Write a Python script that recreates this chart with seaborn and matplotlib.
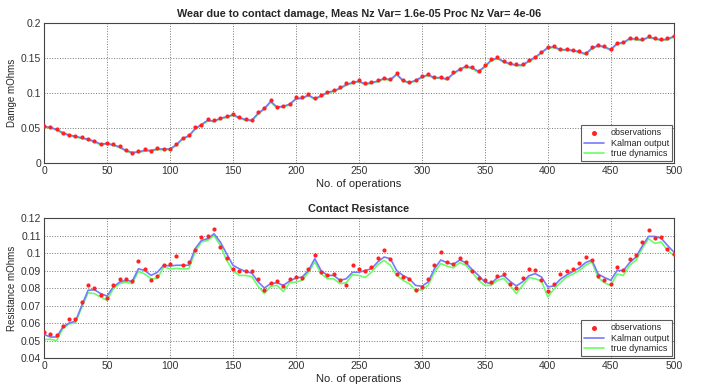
import matplotlib
matplotlib.use('Agg')
from matplotlib import pyplot as plt
from matplotlib.ticker import FuncFormatter
import seaborn as sns
import pandas as pd
import numpy as np

# number of operations, sampled every 5
ops = list(range(0, 501, 5))

# wear due to contact damage (mOhms)
damage_obs = [0.053, 0.052, 0.049, 0.043, 0.040, 0.039, 0.037, 0.035, 0.032, 0.027,
              0.029, 0.027, 0.024, 0.018, 0.015, 0.017, 0.020, 0.017, 0.021, 0.020,
              0.020, 0.027, 0.036, 0.040, 0.051, 0.055, 0.063, 0.061, 0.065, 0.067,
              0.070, 0.066, 0.063, 0.062, 0.073, 0.079, 0.090, 0.080, 0.082, 0.085,
              0.094, 0.094, 0.098, 0.093, 0.097, 0.102, 0.104, 0.108, 0.114, 0.116,
              0.118, 0.114, 0.116, 0.118, 0.122, 0.120, 0.129, 0.119, 0.116, 0.119,
              0.125, 0.127, 0.123, 0.123, 0.121, 0.130, 0.135, 0.139, 0.137, 0.131,
              0.140, 0.149, 0.151, 0.146, 0.143, 0.141, 0.141, 0.147, 0.152, 0.159,
              0.166, 0.167, 0.163, 0.163, 0.162, 0.160, 0.157, 0.166, 0.169, 0.167,
              0.163, 0.172, 0.173, 0.179, 0.178, 0.177, 0.181, 0.179, 0.177, 0.178,
              0.182]
damage_kalman = [0.052, 0.051, 0.048, 0.043, 0.040, 0.038, 0.036, 0.034, 0.031, 0.027,
                 0.028, 0.026, 0.023, 0.018, 0.015, 0.016, 0.018, 0.018, 0.020, 0.020,
                 0.020, 0.026, 0.035, 0.039, 0.049, 0.055, 0.061, 0.060, 0.064, 0.066,
                 0.069, 0.065, 0.062, 0.061, 0.071, 0.078, 0.088, 0.080, 0.081, 0.084,
                 0.092, 0.093, 0.097, 0.092, 0.096, 0.101, 0.103, 0.107, 0.112, 0.115,
                 0.117, 0.113, 0.115, 0.117, 0.121, 0.119, 0.127, 0.118, 0.115, 0.118,
                 0.123, 0.126, 0.122, 0.122, 0.120, 0.128, 0.134, 0.138, 0.136, 0.131,
                 0.138, 0.147, 0.150, 0.145, 0.142, 0.140, 0.140, 0.146, 0.151, 0.158,
                 0.165, 0.166, 0.162, 0.162, 0.161, 0.159, 0.156, 0.164, 0.168, 0.166,
                 0.162, 0.171, 0.172, 0.178, 0.177, 0.176, 0.180, 0.178, 0.176, 0.177,
                 0.181]
damage_true = [0.051, 0.050, 0.047, 0.042, 0.039, 0.037, 0.035, 0.033, 0.030, 0.026,
               0.027, 0.025, 0.022, 0.017, 0.014, 0.015, 0.017, 0.017, 0.019, 0.019,
               0.019, 0.025, 0.034, 0.038, 0.048, 0.054, 0.060, 0.059, 0.063, 0.065,
               0.068, 0.064, 0.061, 0.060, 0.070, 0.077, 0.087, 0.079, 0.080, 0.083,
               0.091, 0.092, 0.096, 0.091, 0.095, 0.100, 0.102, 0.106, 0.111, 0.114,
               0.116, 0.112, 0.114, 0.116, 0.120, 0.118, 0.126, 0.117, 0.114, 0.117,
               0.122, 0.125, 0.121, 0.121, 0.119, 0.127, 0.133, 0.137, 0.135, 0.129,
               0.137, 0.146, 0.149, 0.144, 0.141, 0.139, 0.139, 0.145, 0.150, 0.157,
               0.164, 0.165, 0.161, 0.161, 0.160, 0.158, 0.155, 0.163, 0.167, 0.165,
               0.161, 0.170, 0.171, 0.177, 0.176, 0.175, 0.179, 0.177, 0.175, 0.176,
               0.180]

# contact resistance (mOhms)
res_obs = [0.0550, 0.0540, 0.0530, 0.0585, 0.0625, 0.0625, 0.0720, 0.0815, 0.0800, 0.0760,
           0.0745, 0.0815, 0.0850, 0.0850, 0.0840, 0.0955, 0.0910, 0.0845, 0.0870, 0.0930,
           0.0935, 0.0985, 0.0930, 0.0950, 0.1015, 0.1090, 0.1100, 0.1135, 0.1035, 0.0970,
           0.0910, 0.0900, 0.0900, 0.0895, 0.0850, 0.0790, 0.0830, 0.0840, 0.0810, 0.0850,
           0.0865, 0.0860, 0.0910, 0.0990, 0.0890, 0.0875, 0.0880, 0.0845, 0.0820, 0.0930,
           0.0910, 0.0900, 0.0920, 0.0970, 0.1015, 0.0965, 0.0880, 0.0865, 0.0850, 0.0790,
           0.0805, 0.0850, 0.0930, 0.1005, 0.0950, 0.0935, 0.0970, 0.0950, 0.0900, 0.0855,
           0.0845, 0.0835, 0.0870, 0.0880, 0.0825, 0.0800, 0.0860, 0.0910, 0.0905, 0.0845,
           0.0785, 0.0825, 0.0880, 0.0900, 0.0910, 0.0945, 0.0975, 0.0960, 0.0870, 0.0845,
           0.0825, 0.0920, 0.0905, 0.0965, 0.0990, 0.1065, 0.1130, 0.1085, 0.1090, 0.1025,
           0.0995]
res_kalman = [0.0535, 0.0520, 0.0520, 0.0577, 0.0600, 0.0610, 0.0700, 0.0787, 0.0790, 0.0768,
              0.0754, 0.0806, 0.0834, 0.0844, 0.0838, 0.0910, 0.0900, 0.0872, 0.0890, 0.0930,
              0.0926, 0.0930, 0.0930, 0.0930, 0.1025, 0.1072, 0.1082, 0.1110, 0.1063, 0.0996,
              0.0930, 0.0910, 0.0895, 0.0885, 0.0835, 0.0800, 0.0825, 0.0830, 0.0815, 0.0840,
              0.0857, 0.0863, 0.0900, 0.0968, 0.0900, 0.0872, 0.0872, 0.0844, 0.0853, 0.0890,
              0.0890, 0.0900, 0.0910, 0.0949, 0.0977, 0.0968, 0.0900, 0.0872, 0.0853, 0.0815,
              0.0810, 0.0834, 0.0910, 0.0960, 0.0945, 0.0935, 0.0960, 0.0945, 0.0905, 0.0872,
              0.0834, 0.0825, 0.0860, 0.0872, 0.0838, 0.0812, 0.0835, 0.0870, 0.0882, 0.0863,
              0.0806, 0.0812, 0.0850, 0.0875, 0.0895, 0.0915, 0.0945, 0.0960, 0.0880, 0.0860,
              0.0844, 0.0900, 0.0900, 0.0945, 0.0977, 0.1040, 0.1095, 0.1095, 0.1085, 0.1044,
              0.1006]
res_true = [0.0505, 0.0507, 0.0500, 0.0568, 0.0596, 0.0600, 0.0690, 0.0773, 0.0768, 0.0749,
            0.0730, 0.0796, 0.0825, 0.0834, 0.0825, 0.0895, 0.0880, 0.0853, 0.0855, 0.0920,
            0.0910, 0.0912, 0.0910, 0.0910, 0.1006, 0.1063, 0.1072, 0.1100, 0.1044, 0.0958,
            0.0900, 0.0872, 0.0872, 0.0865, 0.0810, 0.0768, 0.0810, 0.0815, 0.0780, 0.0830,
            0.0834, 0.0844, 0.0890, 0.0949, 0.0882, 0.0853, 0.0853, 0.0825, 0.0830, 0.0876,
            0.0872, 0.0860, 0.0890, 0.0933, 0.0958, 0.0930, 0.0872, 0.0844, 0.0825, 0.0787,
            0.0790, 0.0815, 0.0890, 0.0940, 0.0925, 0.0915, 0.0945, 0.0930, 0.0890, 0.0844,
            0.0815, 0.0815, 0.0844, 0.0855, 0.0815, 0.0768, 0.0815, 0.0860, 0.0853, 0.0840,
            0.0749, 0.0796, 0.0830, 0.0863, 0.0880, 0.0900, 0.0930, 0.0949, 0.0860, 0.0830,
            0.0815, 0.0880, 0.0872, 0.0930, 0.0958, 0.1025, 0.1082, 0.1055, 0.1063, 0.1015,
            0.0987]

# style roughly like the old matlab figure
sns.set_style('white')
plt.rcParams['font.family'] = ['Liberation Sans', 'DejaVu Sans']

fig = plt.figure(figsize=(7.04, 3.84), dpi=100)
ax1 = fig.add_axes([0.0625, 0.5755, 0.8945, 0.3645])
ax2 = fig.add_axes([0.0625, 0.0677, 0.8945, 0.3645])

panels = [
    (ax1, damage_obs, damage_kalman, damage_true,
     'Wear due to contact damage, Meas Nz Var= 1.6e-05 Proc Nz Var= 4e-06',
     'Damge mOhms', (0, 0.2), np.arange(0, 0.201, 0.05)),
    (ax2, res_obs, res_kalman, res_true,
     'Contact Resistance', 'Resistance mOhms', (0.04, 0.12), np.arange(0.04, 0.1201, 0.01)),
]

for ax, obs, kal, tru, title, ylabel, ylim, yticks in panels:
    df = pd.DataFrame({'ops': ops, 'observations': obs,
                       'Kalman output': kal, 'true dynamics': tru})
    sns.scatterplot(data=df, x='ops', y='observations', ax=ax, color='#ff2222',
                    s=9, linewidth=0, label='observations', zorder=4)
    sns.lineplot(data=df, x='ops', y='Kalman output', ax=ax, color='#7878ff',
                 linewidth=1.2, label='Kalman output', zorder=3)
    sns.lineplot(data=df, x='ops', y='true dynamics', ax=ax, color='#66ff66',
                 linewidth=1.2, label='true dynamics', zorder=2)

    ax.set_xlim(0, 500)
    ax.set_ylim(*ylim)
    ax.set_xticks(np.arange(0, 501, 50))
    ax.set_yticks(yticks)
    ax.yaxis.set_major_formatter(FuncFormatter(lambda v, p: '%g' % round(v, 3)))
    ax.grid(True, linestyle=':', color='#777777', linewidth=0.7, zorder=0)
    ax.tick_params(direction='in', length=3, labelsize=7.5, colors='#333333', pad=2)
    for sp in ax.spines.values():
        sp.set_color('#444444')
        sp.set_linewidth(0.8)
    ax.set_title(title, fontsize=7.8, fontweight='bold', pad=4)
    ax.set_ylabel(ylabel, fontsize=7, labelpad=3)
    ax.set_xlabel('No. of operations', fontsize=8, labelpad=2)

    leg = ax.legend(loc='lower right', fontsize=6.5, frameon=True, fancybox=False,
                    borderpad=0.3, labelspacing=0.2, handlelength=2.2,
                    borderaxespad=0.2, markerscale=1.2)
    leg.get_frame().set_edgecolor('#333333')
    leg.get_frame().set_linewidth(0.8)

fig.savefig('out.png', dpi=100)
plt.close()
